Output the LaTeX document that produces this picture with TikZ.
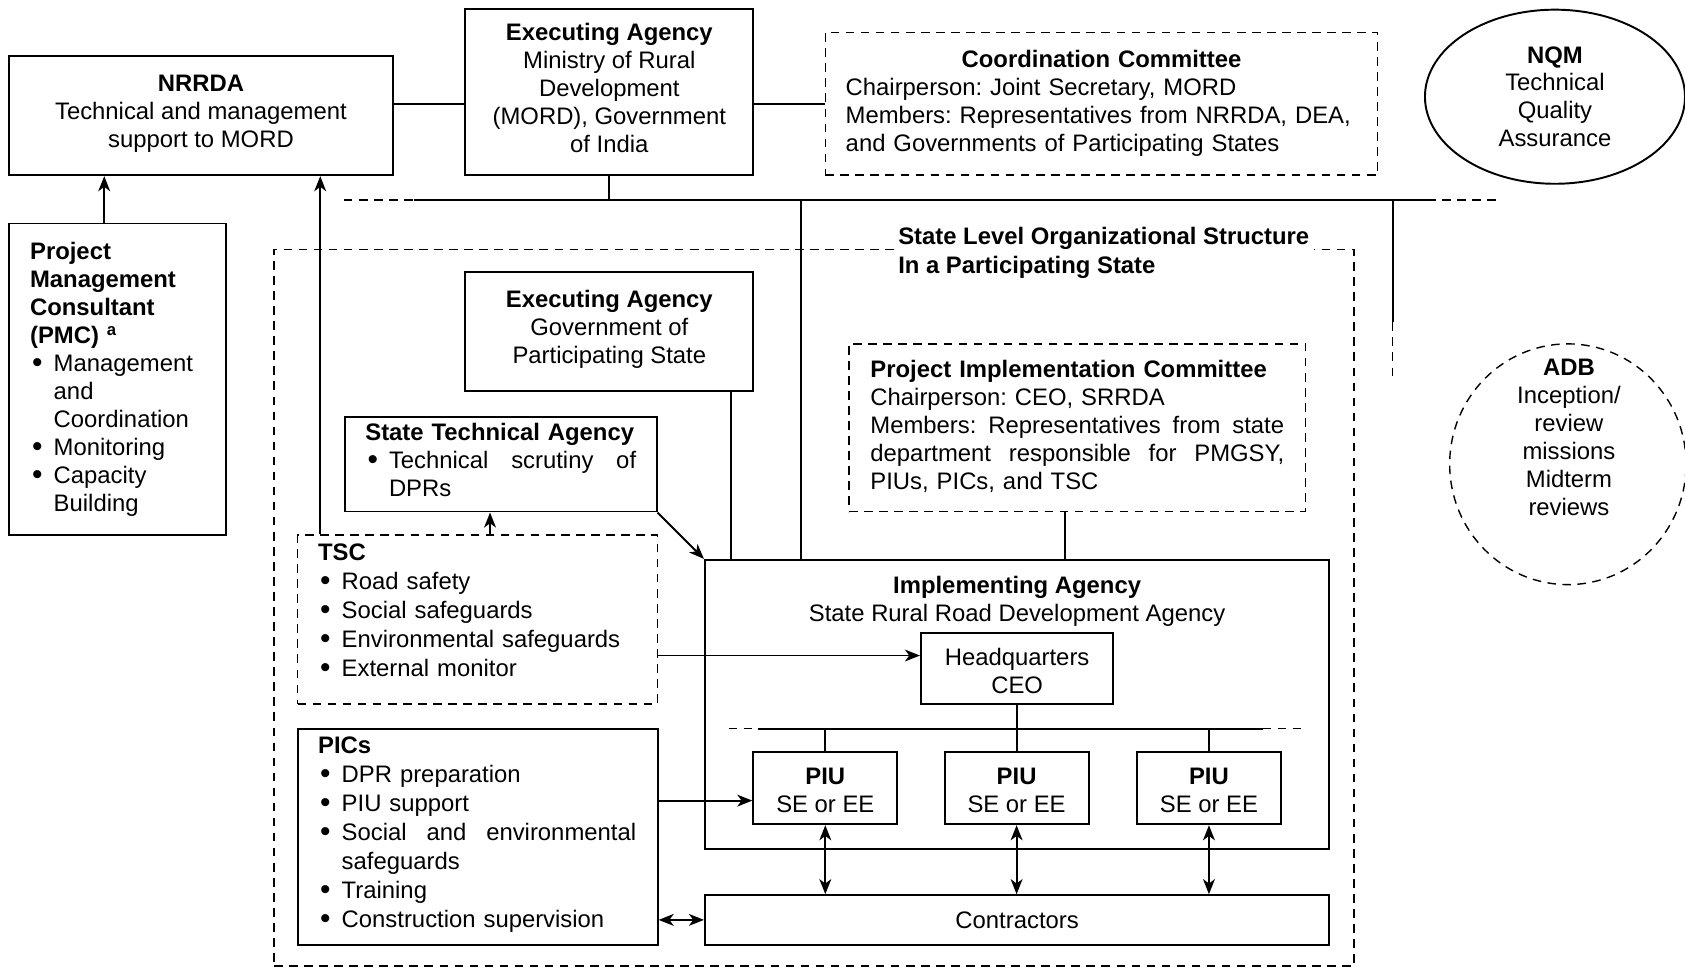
\documentclass[tikz,border=0pt]{standalone}
\usepackage{fontspec}
\setmainfont{Liberation Sans}
\usetikzlibrary{
  arrows.meta,
  shapes.geometric,
  positioning
}

\newcommand{\bul}{\makebox[11pt][l]{\hspace{1pt}\raisebox{-0.4pt}{\scalebox{1.25}{\textbullet}}}}
\newcommand{\ind}{\hspace*{11pt}}
\newcommand{\lift}[1]{\rule[-#1]{0pt}{0pt}}

\begin{document}
\begin{tikzpicture}[
      x=0.5pt, y=-0.5pt,
      font=\fontsize{11.1}{13}\selectfont\frenchspacing,
      >={Stealth[length=7pt,width=5.5pt,inset=2pt]}, line width=0.9pt,
      box/.style={
         rectangle,
         draw,
         line width=0.9pt,
         inner sep=0pt,
         align=center
      },
      dbox/.style={
         box,
         line width=0.65pt,
         dash pattern=on 4pt off 3pt
      },
      itembox/.style={
         box,
         align=left,
         inner xsep=#1
      },
      oval/.style={
         ellipse,
         draw,
         inner sep=0pt,
         align=center
      },
      wide/.style={font=\fontsize{11.1}{13.5}\selectfont\frenchspacing},
      dline/.style={line width=0.65pt, dash pattern=on 4pt off 3pt}
    ]
    \useasboundingbox (0,0) rectangle (1568,901);

    % state level frame
    \node (state) [dbox, minimum width=502.5pt, minimum height=333.5pt] at (757.5,565.5) {};
    \node (statetitle) [wide, fill=white, align=left, inner sep=2pt, anchor=west] at (831,235)
       {\textbf{State Level Organizational Structure}\\\textbf{In a Participating State}};

    % national level
    \node (nrrda) [box, minimum width=179pt, minimum height=55.5pt] at (187,107.5)
       {\textbf{NRRDA}\\Technical and management\\support to MORD\lift{4pt}};
    \node (mord) [box, minimum width=134pt, minimum height=77.5pt] at (567,85.5)
       {\textbf{Executing Agency}\\Ministry of Rural\\Development\\(MORD), Government\\of India\lift{3.5pt}};
    \node (coord) [dbox, align=left, text width=238pt, inner xsep=9.5pt, minimum height=66.5pt] at (1025,96.5)
       {\makebox[238pt][c]{\textbf{Coordination Committee}}\\Chairperson: Joint Secretary, MORD\\Members: Representatives from NRRDA, DEA,\\and Governments of Participating States\lift{3pt}};
    \node (nqm) [oval, minimum width=121pt, minimum height=81pt] at (1447,90)
       {\textbf{NQM}\\Technical\\Quality\\Assurance};
    \node (pmc) [itembox=10pt, text width=81pt, minimum height=145pt] at (109,353)
       {\textbf{Project}\\\textbf{Management}\\\textbf{Consultant}\\\textbf{(PMC) \textsuperscript{a}}\\\bul Management\\\ind and\\\ind Coordination\\\bul Monitoring\\\bul Capacity\\\ind Building\lift{1.5pt}};
    \node (adb) [oval, dash pattern=on 4pt off 3pt, line width=0.65pt, minimum width=110pt, minimum height=112pt] at (1459,432) {};
    \node (adbtext) [align=center] at (1460,407)
       {\textbf{ADB}\\Inception/\\review\\missions\\Midterm\\reviews};

    % participating state
    \node (stea) [box, minimum width=134pt, minimum height=55.5pt] at (567,308.5)
       {\textbf{Executing Agency}\\Government of\\Participating State\lift{4pt}};
    \node (sta) [itembox=9.5pt, text width=126pt, minimum height=44pt] at (466,432)
       {\textbf{State Technical Agency}\\\bul\makebox[115pt][s]{Technical\hfill scrutiny\hfill of}\\\ind DPRs\lift{4pt}};
    \node (tsc) [dbox, wide, align=left, text width=148.5pt, inner xsep=9.5pt, minimum height=78.5pt] at (444.5,576.5)
       {\textbf{TSC}\\\bul Road safety\\\bul Social safeguards\\\bul Environmental safeguards\\\bul External monitor\lift{9pt}};
    \node (picom) [dbox, align=left, text width=192.5pt, inner xsep=10pt, minimum height=78pt] at (1002.5,398)
       {\textbf{Project Implementation Committee}\\Chairperson: CEO, SRRDA\\\makebox[192.5pt][s]{Members:\hfill Representatives\hfill from\hfill state}\\\makebox[192.5pt][s]{department\hfill responsible\hfill for\hfill PMGSY,}\\PIUs, PICs, and TSC\lift{2.5pt}};
    \node (pics) [itembox=9.5pt, wide, text width=148.5pt, minimum height=100.5pt] at (444.5,778.5)
       {\textbf{PICs}\\\bul DPR preparation\\\bul PIU support\\\bul\makebox[137pt][s]{Social\hfill and\hfill environmental}\\\ind safeguards\\\bul Training\\\bul Construction supervision\lift{4pt}};

    \node (impl) [box, minimum width=290.5pt, minimum height=134.5pt] at (946.5,655.5) {};
    \node (impltitle) [align=center] at (946.5,560)
       {\textbf{Implementing Agency}\\State Rural Road Development Agency};
    \node (hq) [box, minimum width=89.5pt, minimum height=33pt] at (946.5,622)
       {\rule{0pt}{10pt}Headquarters\\CEO};
    \foreach \i/\x in {1/768,2/946,3/1125}
       \node (piu\i) [box, minimum width=67pt, minimum height=33.5pt] at (\x,733.5)
          {\rule{0pt}{10pt}\textbf{PIU}\\SE or EE};
    \node (contr) [box, minimum width=290.5pt, minimum height=23pt] at (946.5,856) {Contractors};

    % helper points
    \coordinate (ytop) at (0,97);
    \coordinate (busW) at (320,186);
    \coordinate (busA) at (385,186);
    \coordinate (busB) at (1328,186);
    \coordinate (busE) at (1395,186);
    \coordinate (drop) at (745,186);
    \coordinate (nqmdrop) at (1296,186);
    \coordinate (nqmmid) at (1296,300);
    \coordinate (nqmend) at (1296,352);
    \coordinate (pbusW) at (678,678);
    \coordinate (pbusA) at (705,678);
    \coordinate (pbusB) at (1175,678);
    \coordinate (pbusE) at (1215,678);
    \coordinate (xpmc) at (97,0);
    \coordinate (xtsc) at (298,0);
    \coordinate (xsta) at (456,0);
    \coordinate (xstea) at (680,0);
    \coordinate (xpic) at (991,0);
    \coordinate (yhq) at (0,610);
    \coordinate (ypiu) at (0,745);

    % connectors
    \draw (nrrda.east |- ytop) -- (mord.west |- ytop);
    \draw (mord.east |- ytop) -- (coord.west |- ytop);
    \draw[dline] (busW) -- (busA);
    \draw (busA) -- (busB);
    \draw[dline] (busB) -- (busE);
    \draw (mord.south) -- (mord.south |- busA);
    \draw (drop) -- (drop |- impl.north);
    \draw (nqmdrop) -- (nqmmid);
    \draw[dline] (nqmmid) -- (nqmend);

    \draw[->] (xpmc |- pmc.north) -- (xpmc |- nrrda.south);
    \draw[->] (xtsc |- tsc.north) -- (xtsc |- nrrda.south);
    \draw[->] (xsta |- tsc.north) -- (xsta |- sta.south);
    \draw[->] (sta.south east) -- (impl.north west);
    \draw (xstea |- stea.south) -- (xstea |- impl.north);
    \draw (xpic |- picom.south) -- (xpic |- impl.north);
    \draw[->] (tsc.east |- yhq) -- (hq.west |- yhq);
    \draw[->] (pics.east |- ypiu) -- (piu1.west |- ypiu);
    \draw[<->] (pics.east |- contr.west) -- (contr.west);

    \draw[dline] (pbusW) -- (pbusA);
    \draw (pbusA) -- (pbusB);
    \draw[dline] (pbusB) -- (pbusE);
    \draw (hq.south) -- (hq.south |- pbusA);
    \foreach \i in {1,2,3} {
       \draw (piu\i.north) -- (piu\i.north |- pbusA);
       \draw[<->] (piu\i.south) -- (piu\i.south |- contr.north);
    }
\end{tikzpicture}
\end{document}
